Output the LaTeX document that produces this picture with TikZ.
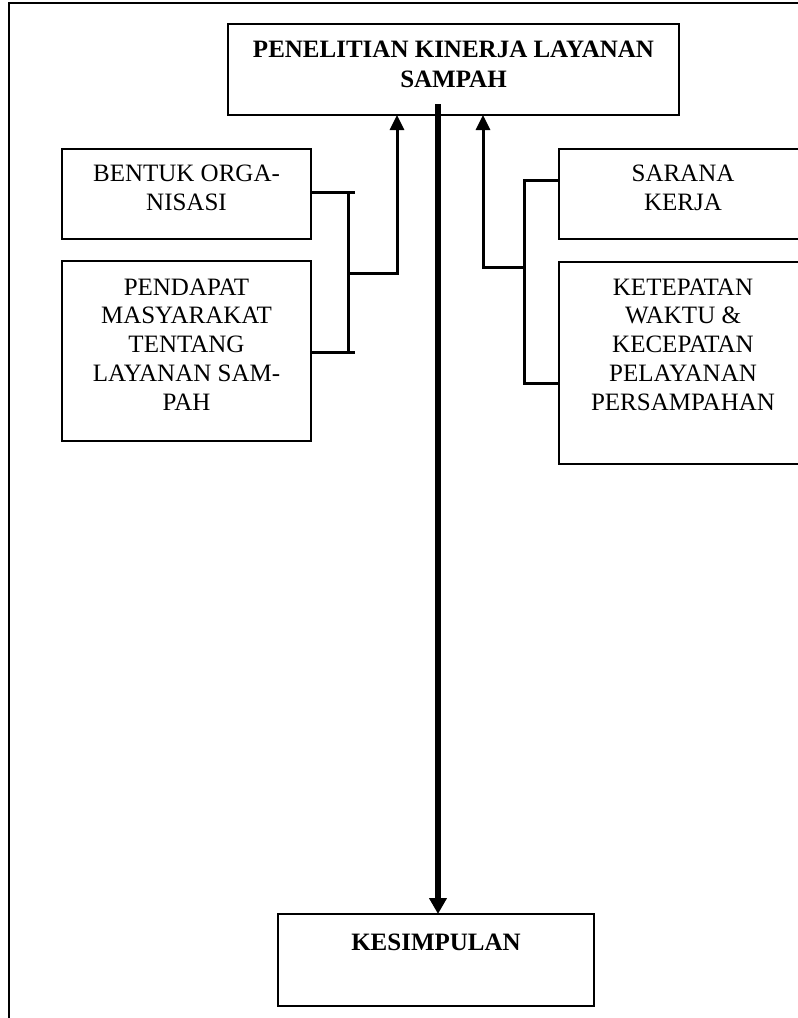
\documentclass[tikz,border=0pt]{standalone}
\usepackage{fontspec}
\setmainfont{Liberation Serif}
\usetikzlibrary{arrows.meta}
\begin{document}
\begin{tikzpicture}[x=1pt,y=-1pt,
  box/.style={draw, line width=1.3pt, inner sep=0pt, outer sep=0pt, anchor=north west},
  txt/.style={anchor=north, align=center, inner sep=0pt, font=\fontsize{25}{28.75}\selectfont},
  conn/.style={line width=3pt},
  arr/.style={line width=3pt, -{Triangle[length=15pt,width=14pt]}},
  mainarr/.style={line width=5.5pt, -{Triangle[length=16pt,width=17pt]}}
]
\clip (0,0) rectangle (798,1018);
\fill[white] (0,0) rectangle (798,1018);
\draw[line width=1.4pt] (9,3) rectangle (830,1040);

% boxes
\node[box, minimum width=451pt, minimum height=91pt] (title) at (228,24) {};
\node[box, minimum width=249pt, minimum height=90pt] (bentuk) at (62,149) {};
\node[box, minimum width=249pt, minimum height=180pt] (pendapat) at (62,261) {};
\node[box, minimum width=248pt, minimum height=90pt] (sarana) at (559,149) {};
\node[box, minimum width=248pt, minimum height=202pt] (ketepatan) at (559,262) {};
\node[box, minimum width=316pt, minimum height=92pt] (kes) at (278,914) {};

% texts
\node[txt, font=\fontsize{25}{29.5}\selectfont\bfseries] (titletext) at ([yshift=-17pt]title.north) {PENELITIAN KINERJA LAYANAN\\SAMPAH};
\node[txt] (bentuktext) at ([yshift=-16pt]bentuk.north) {BENTUK ORGA-\\NISASI};
\node[txt] (pendapattext) at ([yshift=-17.5pt]pendapat.north) {PENDAPAT\\MASYARAKAT\\TENTANG\\LAYANAN SAM-\\PAH};
\node[txt] (saranatext) at ([yshift=-16pt]sarana.north) {SARANA\\KERJA};
\node[txt] (ketepatantext) at ([yshift=-16.5pt]ketepatan.north) {KETEPATAN\\WAKTU \&\\KECEPATAN\\PELAYANAN\\PERSAMPAHAN};
\node[txt, font=\fontsize{25}{29.5}\selectfont\bfseries] (kestext) at ([yshift=-19.5pt]kes.north) {KESIMPULAN};

% left bracket
\coordinate (lb1) at (348,192);
\coordinate (lb2) at (348,352);
\coordinate (lm) at (348,273);
\coordinate (la) at (397,273);
\draw[conn] ([yshift=2pt]bentuk.east) -- (355,192);
\draw[conn] ([yshift=-1pt]pendapat.east) -- (355,352);
\draw[conn] (lb1) -- (lb2);
\draw[arr] (lm) -- (la) -- (la |- title.south);

% right bracket
\coordinate (rb1) at (524,180);
\coordinate (rb2) at (524,383);
\coordinate (rm) at (524,267);
\coordinate (ra) at (483,267);
\draw[conn] ([yshift=14pt]sarana.west) -- (rb1) -- (rb2) -- ([yshift=-20pt]ketepatan.west);
\draw[arr] (rm) -- (ra) -- (ra |- title.south);

% main arrow
\coordinate (c0) at (438,104);
\draw[mainarr] (c0) -- (c0 |- kes.north);
\end{tikzpicture}
\end{document}
